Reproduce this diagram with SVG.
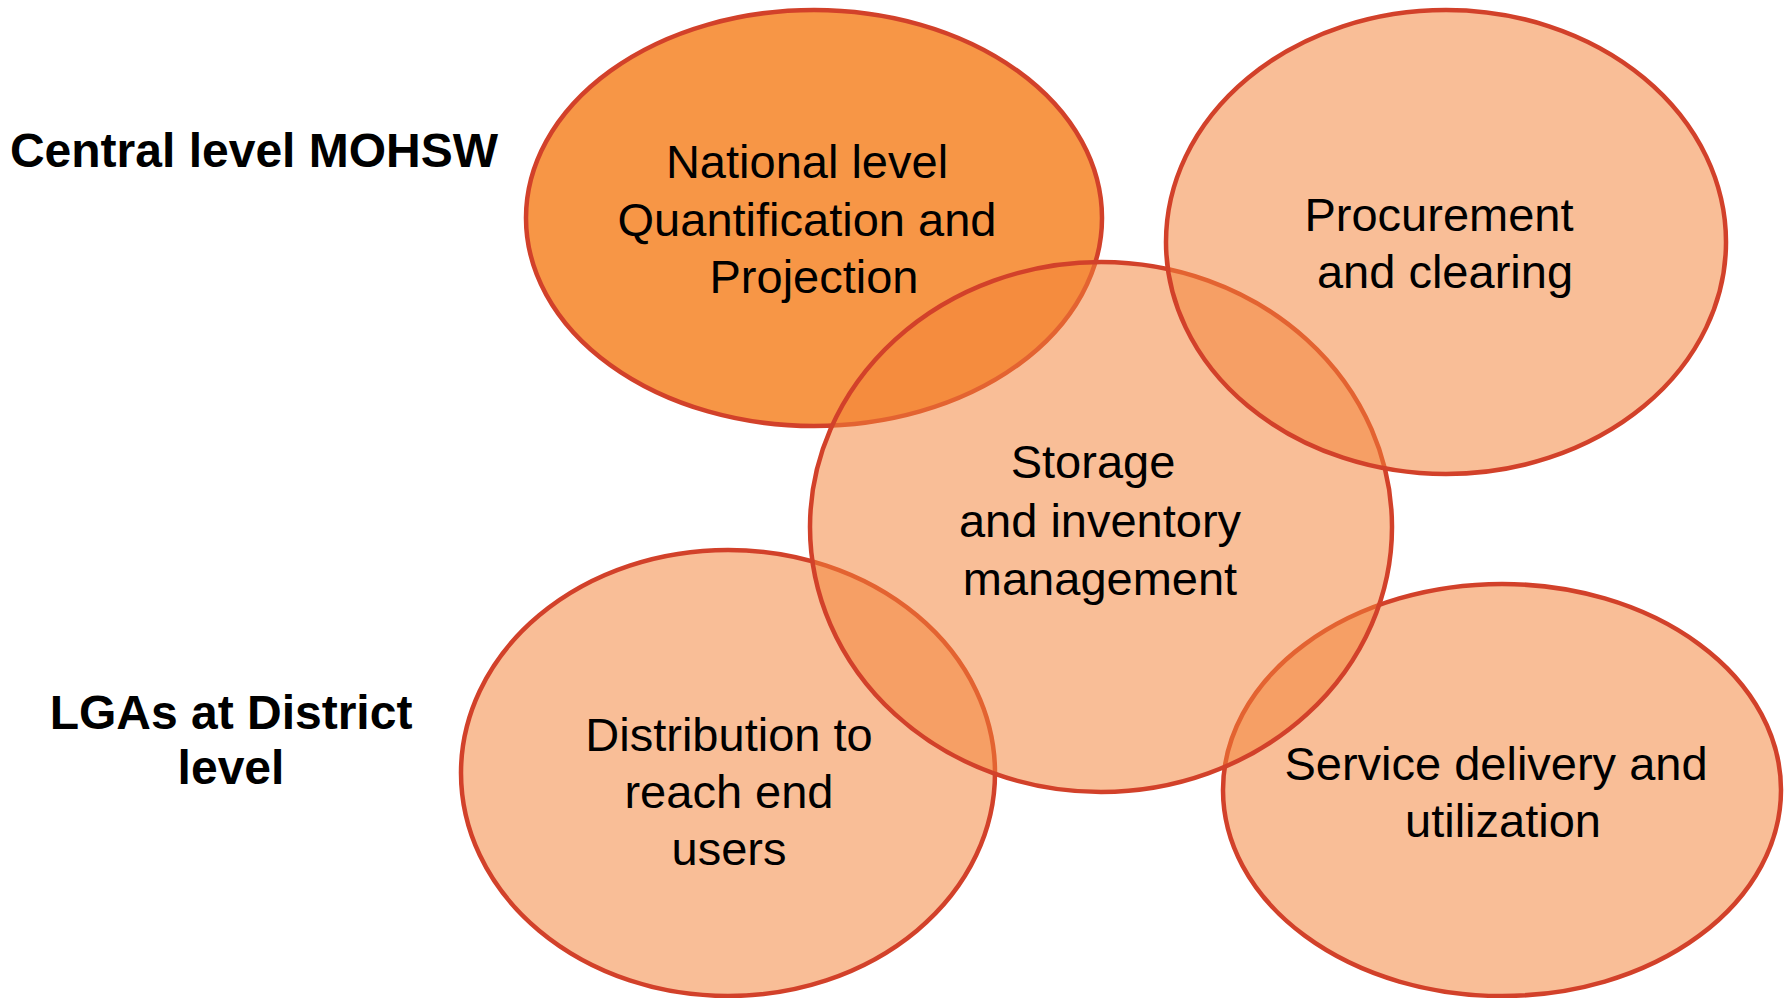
<svg xmlns="http://www.w3.org/2000/svg" width="1786" height="998" viewBox="0 0 1786 998">
<style>
.e{fill:#F38337;stroke:#D2412A;stroke-width:4.5}
.light{fill-opacity:0.52}
.dark{fill:#F79646}
.t{font-family:"Liberation Sans",Arial,sans-serif;font-size:47px;fill:#000;text-anchor:middle}
.h{font-family:"Liberation Sans",Arial,sans-serif;font-size:48px;font-weight:bold;fill:#000;text-anchor:middle}
</style>
<rect width="1786" height="998" fill="#fff"/>
<g id="label-central"><text class="h" x="254" y="167">Central level MOHSW</text></g>
<g id="label-lgas"><text class="h" x="231" y="729">LGAs at District</text><text class="h" x="231" y="784">level</text></g>
<g id="national">
<ellipse class="e dark" cx="814" cy="218" rx="288" ry="208"/>
<text class="t" x="807" y="178">National level</text>
<text class="t" x="807" y="236">Quantification and</text>
<text class="t" x="814" y="293">Projection</text>
</g>
<g id="distribution">
<ellipse class="e light" cx="728" cy="773" rx="267" ry="223"/>
<text class="t" x="729" y="751">Distribution to</text>
<text class="t" x="729" y="808">reach end</text>
<text class="t" x="729" y="865">users</text>
</g>
<g id="service">
<ellipse class="e light" cx="1502" cy="790" rx="279" ry="206"/>
<text class="t" x="1496" y="780">Service delivery and</text>
<text class="t" x="1503" y="837">utilization</text>
</g>
<g id="storage">
<ellipse class="e light" cx="1101" cy="527" rx="291" ry="265"/>
<text class="t" x="1093" y="478">Storage</text>
<text class="t" x="1100" y="537">and inventory</text>
<text class="t" x="1100" y="595">management</text>
</g>
<g id="procurement">
<ellipse class="e light" cx="1446" cy="242" rx="280" ry="232"/>
<text class="t" x="1439" y="231">Procurement</text>
<text class="t" x="1445" y="288">and clearing</text>
</g>
<g id="connectors"></g>
</svg>
